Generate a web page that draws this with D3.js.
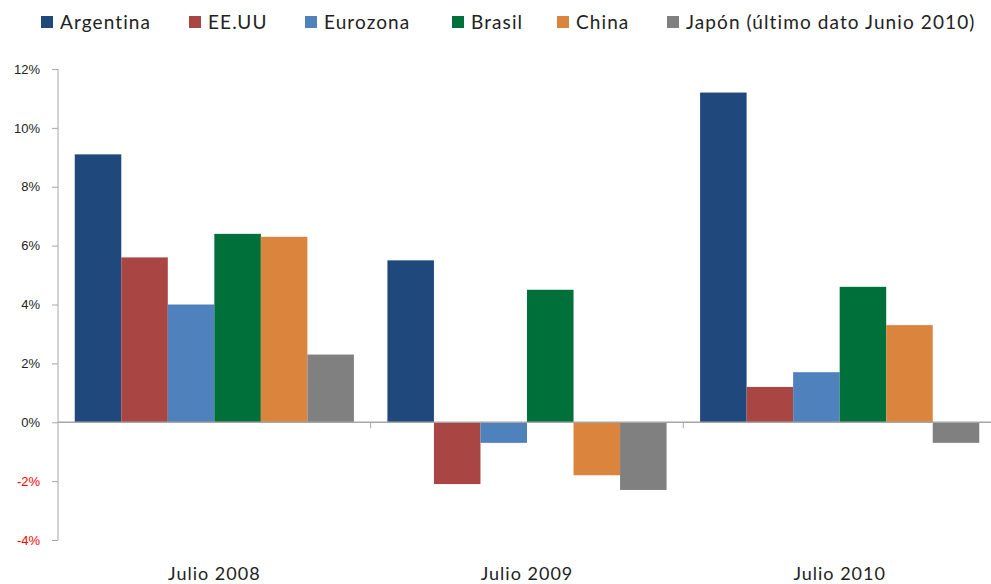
<!DOCTYPE html>
<html>
<head>
<meta charset="utf-8">
<script src="https://cdn.jsdelivr.net/npm/d3@7"></script>
<style>
  body { margin: 0; background: #fff; }
  svg { display: block; font-family: Lato, "Open Sans", sans-serif; }
</style>
</head>
<body>
<div id="chart"></div>
<script>
var periods = ["Julio 2008", "Julio 2009", "Julio 2010"];
var seriesNames = ["Argentina", "EE.UU", "Eurozona", "Brasil", "China", "Japón (último dato Junio 2010)"];
var argentina = [9.1, 5.5, 11.2];
var eeuu = [5.6, -2.1, 1.2];
var eurozona = [4.0, -0.7, 1.7];
var brasil = [6.4, 4.5, 4.6];
var china = [6.3, -1.8, 3.3];
var japon = [2.3, -2.3, -0.7];
var yTicks = [12, 10, 8, 6, 4, 2, 0, -2, -4];
var colors = ["#1F497D", "#A94543", "#4F81BD", "#00703A", "#DB843D", "#808080"];

var allSeries = [argentina, eeuu, eurozona, brasil, china, japon];

var width = 991, height = 584;
var margin = {left: 58, top: 69, right: 0, bottom: 44};

var svg = d3.select("#chart").append("svg")
    .attr("width", width)
    .attr("height", height);

var x0 = d3.scaleBand()
    .domain(periods)
    .range([margin.left, 996])
    .padding(0);

var x1 = d3.scaleBand()
    .domain(d3.range(seriesNames.length))
    .range([0, x0.bandwidth()])
    .paddingInner(0)
    .paddingOuter(0.36);

var y = d3.scaleLinear()
    .domain([-4, 12])
    .range([540, 69]);

// bars
var groups = svg.append("g").selectAll("g")
    .data(periods)
    .enter().append("g")
    .attr("transform", function(d) { return "translate(" + x0(d) + ",0)"; });

groups.selectAll("rect")
    .data(function(p, i) { return allSeries.map(function(s, k) { return {k: k, v: s[i]}; }); })
    .enter().append("rect")
    .attr("x", function(d) { return x1(d.k); })
    .attr("width", x1.bandwidth())
    .attr("y", function(d) { return y(Math.max(0, d.v)); })
    .attr("height", function(d) { return Math.abs(y(d.v) - y(0)); })
    .attr("fill", function(d) { return colors[d.k]; });

// y axis
var yAxisG = svg.append("g")
    .attr("transform", "translate(" + margin.left + ",0)")
    .call(d3.axisLeft(y).tickValues(yTicks).tickSize(6).tickPadding(12)
        .tickFormat(function(d) { return d + "%"; }));
yAxisG.select(".domain").attr("stroke", "#a6a6a6").attr("d", "M0," + y(12) + "V" + y(-4));
yAxisG.selectAll(".tick line").attr("stroke", "#a6a6a6");
yAxisG.selectAll(".tick text")
    .style("font-size", "13px")
    .attr("fill", function(d) { return d < 0 ? "#ff0000" : "#222"; });

// zero line + category ticks
svg.append("line")
    .attr("x1", margin.left).attr("x2", width)
    .attr("y1", y(0)).attr("y2", y(0))
    .attr("stroke", "#a6a6a6").attr("stroke-width", 1.5);

svg.append("g").selectAll("line")
    .data(periods.slice(1))
    .enter().append("line")
    .attr("x1", function(d) { return x0(d); })
    .attr("x2", function(d) { return x0(d); })
    .attr("y1", y(0)).attr("y2", y(0) + 6)
    .attr("stroke", "#a6a6a6");

svg.append("g").selectAll("text")
    .data(periods)
    .enter().append("text")
    .attr("x", function(d) { return x0(d) + x0.bandwidth() / 2; })
    .attr("y", 580)
    .attr("text-anchor", "middle")
    .style("font-size", "18px")
    .style("letter-spacing", "1px")
    .attr("fill", "#222")
    .text(function(d) { return d; });

// legend
var legendX = [41, 189, 305, 452, 557, 667];
var legend = svg.append("g").selectAll("g")
    .data(seriesNames)
    .enter().append("g")
    .attr("transform", function(d, i) { return "translate(" + legendX[i] + ",0)"; });
legend.append("rect")
    .attr("x", 0).attr("y", 16)
    .attr("width", 12).attr("height", 12)
    .attr("fill", function(d, i) { return colors[i]; });
legend.append("text")
    .attr("x", 19).attr("y", 29)
    .style("font-size", "19px")
    .style("letter-spacing", "1.1px")
    .attr("fill", "#222")
    .text(function(d) { return d; });
</script>
</body>
</html>
